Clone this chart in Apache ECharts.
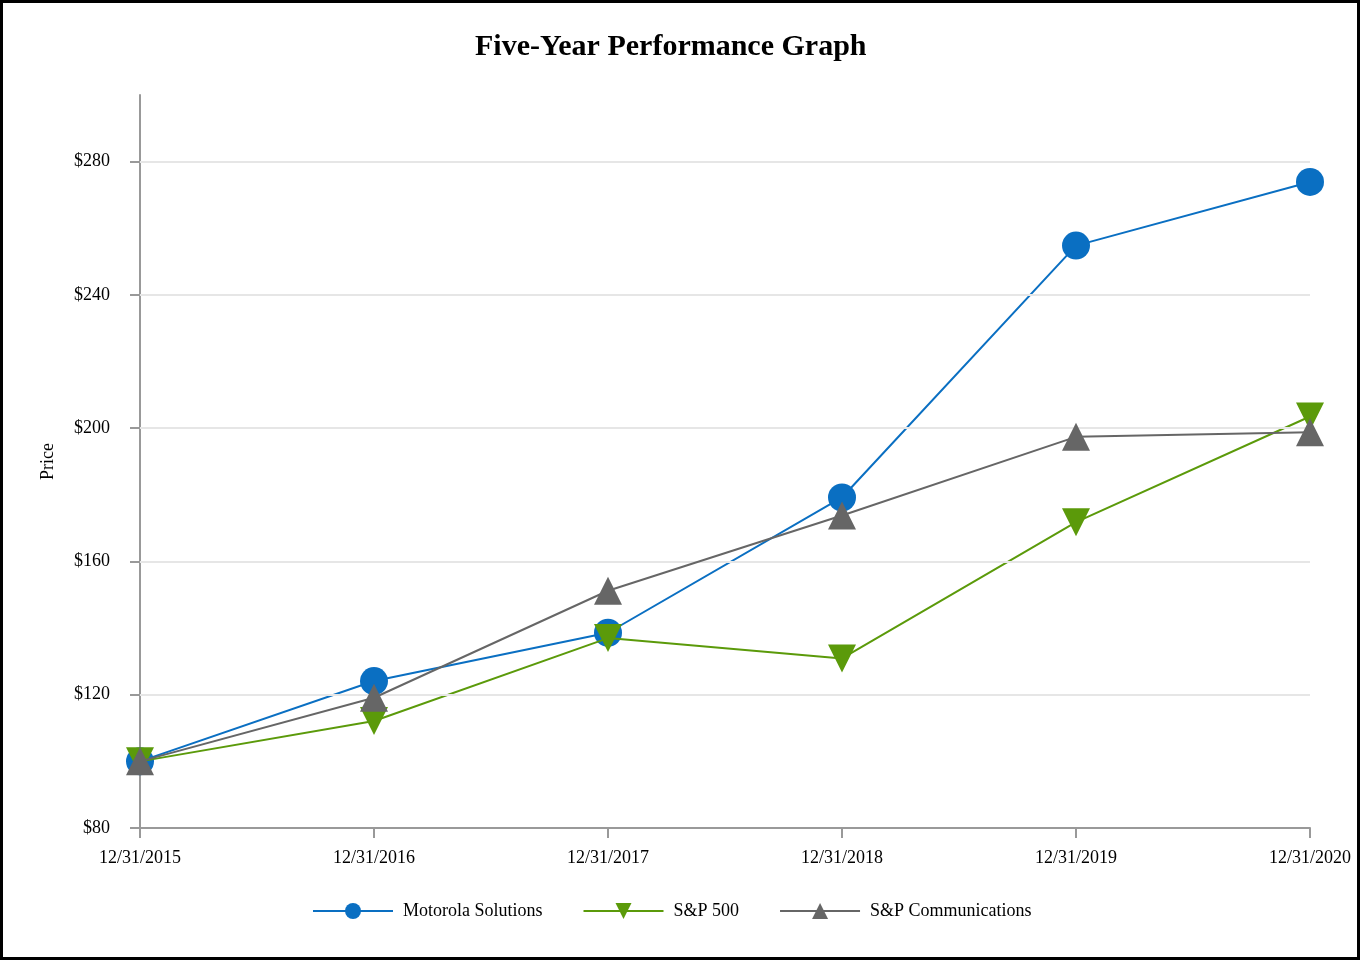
<!DOCTYPE html>
<html>
<head>
<meta charset="utf-8">
<script src="https://cdn.jsdelivr.net/npm/echarts@6/dist/echarts.min.js"></script>
<style>
html,body{margin:0;padding:0;background:#fff;}
#wrap{width:1360px;height:960px;box-sizing:border-box;border:3px solid #000;}
#chart{width:1354px;height:954px;}
</style>
</head>
<body>
<div id="wrap"><div id="chart"></div></div>
<script>
const categories = ['12/31/2015','12/31/2016','12/31/2017','12/31/2018','12/31/2019','12/31/2020'];
const motorola = [100, 124.1, 138.6, 179.2, 254.8, 273.9];
const sp500 = [100, 112.1, 137.0, 130.9, 171.8, 203.5];
const spComm = [100, 119.1, 151.2, 173.8, 197.4, 198.8];
const yTicks = [80, 120, 160, 200, 240, 280];
const gridValues = [120, 160, 200, 240, 280];

const font = 'Liberation Serif';
const chart = echarts.init(document.getElementById('chart'));
chart.setOption({
  backgroundColor: '#fff',
  animation: false,
  textStyle: {fontFamily: font},
  title: {
    text: 'Five-Year Performance Graph',
    left: 472,
    top: 29,
    padding: 0,
    textStyle: {fontFamily: font, fontSize: 30, fontWeight: 'bold', color: '#000'}
  },
  legend: {
    top: 894,
    left: 304,
    itemWidth: 80,
    itemHeight: 20,
    itemGap: 40,
    data: ['Motorola Solutions', 'S&P 500', 'S&P Communications'],
    textStyle: {fontFamily: font, fontSize: 18, color: '#000', padding: [0, 0, 0, 5]}
  },
  grid: {left: 137, right: 47, top: 92, bottom: 129, containLabel: false},
  xAxis: {
    type: 'category',
    data: categories,
    boundaryGap: false,
    axisLine: {lineStyle: {color: '#999', width: 2}},
    axisTick: {show: true, length: 10, alignWithLabel: true, lineStyle: {color: '#999', width: 2}},
    axisLabel: {fontFamily: font, fontSize: 18, color: '#000', margin: 21}
  },
  yAxis: {
    type: 'value',
    min: 80,
    max: 300,
    interval: 40,
    name: 'Price',
    nameLocation: 'middle',
    nameGap: 83,
    nameTextStyle: {fontFamily: font, fontSize: 18, color: '#000'},
    axisLine: {show: true, lineStyle: {color: '#999', width: 2}},
    axisTick: {show: true, length: 10, customValues: yTicks, lineStyle: {color: '#999', width: 2}},
    axisLabel: {
      fontFamily: font, fontSize: 18, color: '#000', margin: 30,
      customValues: yTicks,
      formatter: v => '$' + v
    },
    splitLine: {show: false}
  },
  series: [
    {
      name: 'grid',
      type: 'line',
      data: [],
      z: 1,
      silent: true,
      markLine: {
        silent: true,
        symbol: 'none',
        label: {show: false},
        lineStyle: {color: '#e6e6e6', width: 2, type: 'solid'},
        data: gridValues.map(v => ({yAxis: v}))
      }
    },
    {
      name: 'Motorola Solutions',
      type: 'line',
      data: motorola,
      z: 3,
      symbol: 'circle',
      symbolSize: 28,
      color: '#0a6fc2',
      lineStyle: {color: '#0a6fc2', width: 2},
      itemStyle: {color: '#0a6fc2'}
    },
    {
      name: 'S&P 500',
      type: 'line',
      data: sp500,
      z: 4,
      symbol: 'triangle',
      symbolRotate: 180,
      symbolSize: 28,
      color: '#5b9a0a',
      lineStyle: {color: '#5b9a0a', width: 2},
      itemStyle: {color: '#5b9a0a'}
    },
    {
      name: 'S&P Communications',
      type: 'line',
      data: spComm,
      z: 5,
      symbol: 'triangle',
      symbolSize: 28,
      color: '#666666',
      lineStyle: {color: '#666666', width: 2},
      itemStyle: {color: '#666666'}
    }
  ]
});
</script>
</body>
</html>
